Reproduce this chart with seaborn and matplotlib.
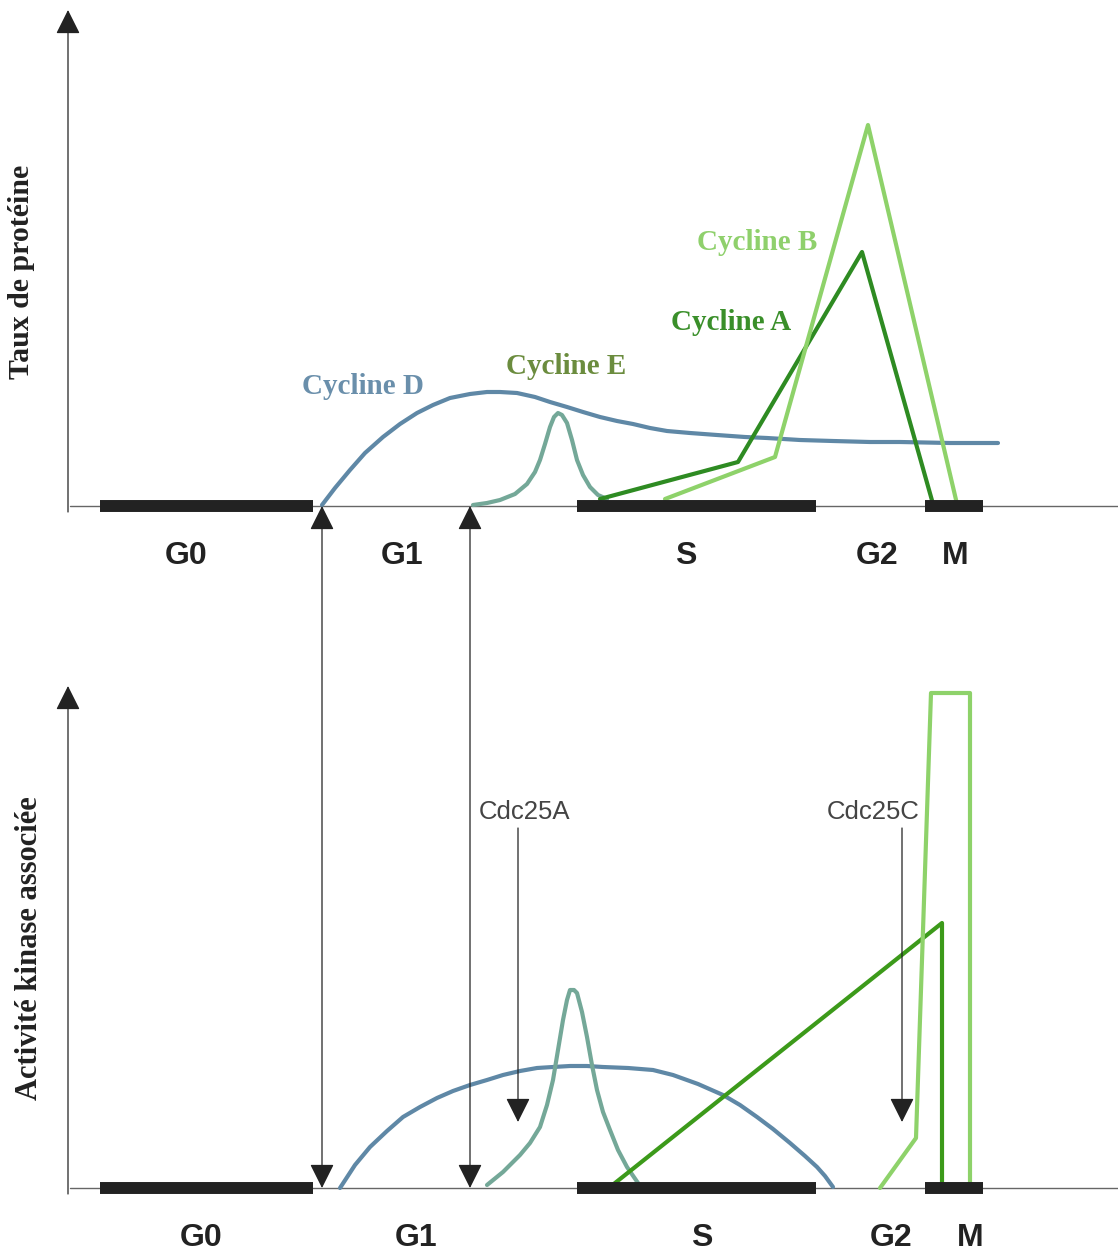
import matplotlib
matplotlib.use('Agg')
import matplotlib.pyplot as plt
import seaborn as sns

# ---- data (x = position along the cycle, level = height above baseline) ----

# top panel : Taux de protéine
top_d_x = [322, 335, 350, 365, 383, 400, 417, 433, 450, 470, 487, 500, 517, 535, 550, 567,
           583, 600, 617, 633, 650, 667, 690, 717, 745, 767, 800, 833, 870, 900, 950, 998]
top_d_y = [1, 18, 36, 53, 69, 82, 93, 101, 108, 112, 114, 114, 113, 109, 104, 99,
           94, 89, 85, 82, 78, 75, 73, 71, 69, 68, 66, 65, 64, 64, 63, 63]

top_e_x = [473, 487, 500, 515, 527, 535, 540, 545, 550, 554, 558, 562, 567, 572, 577, 583, 590, 598, 607]
top_e_y = [1, 3, 6, 12, 22, 34, 46, 62, 79, 89, 93, 91, 83, 66, 46, 31, 19, 11, 7]

top_a_x = [600, 738, 862, 933]
top_a_y = [7, 44, 254, 2]

top_b_x = [665, 775, 868, 957]
top_b_y = [7, 49, 381, 2]

# bottom panel : Activité kinase associée
bot_d_x = [340, 355, 370, 387, 403, 420, 437, 453, 470, 487, 503, 520, 537, 553, 570,
           587, 603, 628, 653, 673, 698, 723, 740, 757, 773, 790, 805, 817, 825, 833]
bot_d_y = [0, 23, 41, 57, 71, 81, 90, 97, 103, 108, 113, 117, 120, 121, 122,
           122, 121, 120, 118, 113, 104, 93, 83, 71, 59, 45, 32, 21, 12, 1]

bot_e_x = [487, 503, 520, 530, 540, 547, 553, 558, 563, 567, 570, 574, 577, 582, 587,
           592, 597, 603, 610, 618, 627, 638]
bot_e_y = [3, 16, 33, 45, 61, 83, 108, 138, 168, 188, 198, 198, 195, 176, 151,
           123, 98, 76, 58, 38, 21, 5]

bot_a_x = [610, 942, 942]
bot_a_y = [1, 265, 0]

bot_b_x = [880, 916, 931, 970, 970]
bot_b_y = [0, 50, 495, 495, 0]

# phases
phase_start = [100, 577, 925]
phase_end = [313, 816, 983]

phase_labels = ['G0', 'G1', 'S', 'G2', 'M']
top_label_x = [186, 402, 686, 877, 955]
bot_label_x = [201, 416, 702, 891, 970]

# cyclin labels
cyc_names = ['Cycline D', 'Cycline E', 'Cycline A', 'Cycline B']
cyc_label_x = [363, 566, 731, 757]
cyc_label_y = [119, 139, 184, 264]

# checkpoints (double arrows) and Cdc25 arrows
check_x = [322, 470]
cdc_names = ['Cdc25A', 'Cdc25C']
cdc_x = [518, 902]
cdc_label_x = [524, 873]
cdc_tail = [360, 360]
cdc_tip = [66, 66]

# ---- colours ----
col_d = '#5f88a6'
col_e = '#74a898'
col_a = '#2e8b22'
col_b = '#8ed26a'
col_a2 = '#3c9a1a'
text_cols = ['#6a8fab', '#6b8c3e', '#3a8f2a', '#8fd06c']
dark = '#222222'
axis_col = '#666666'

sns.set_theme(style='white')

W, H = 1118, 1253
fig = plt.figure(figsize=(W / 100, H / 100), dpi=100)
split = 600
ax_top = fig.add_axes([0, (H - split) / H, 1, split / H])
ax_bot = fig.add_axes([0, 0, 1, (H - split) / H])

ax_top.set_xlim(0, W)
ax_top.set_ylim(506 - split, 506)
ax_bot.set_xlim(0, W)
ax_bot.set_ylim(1188 - H, 1188 - split)
for ax in (ax_top, ax_bot):
    ax.axis('off')

line_kw = dict(lw=3.0, sort=False, estimator=None, solid_joinstyle='round',
               solid_capstyle='round')
arrow_kw = dict(arrowstyle='-|>', color=dark, lw=0.9, mutation_scale=38,
                shrinkA=0, shrinkB=0)


def draw_frame(ax, y_top, label_x):
    # y axis with arrow
    ax.annotate('', xy=(68, y_top), xytext=(68, -6), arrowprops=arrow_kw)
    # baseline
    ax.plot([70, W], [0, 0], color=axis_col, lw=1.0, zorder=1)
    # phase bars
    ax.hlines([0] * len(phase_start), phase_start, phase_end, color=dark,
              lw=8.6, capstyle='butt', zorder=4)
    for name, x in zip(phase_labels, label_x):
        ax.text(x, -50, name, ha='center', va='center', fontsize=23,
                fontweight='bold', family='Liberation Sans', color=dark)


draw_frame(ax_top, 496, top_label_x)
draw_frame(ax_bot, 502, bot_label_x)

# top curves
sns.lineplot(x=top_d_x, y=top_d_y, ax=ax_top, color=col_d, **line_kw)
sns.lineplot(x=top_e_x, y=top_e_y, ax=ax_top, color=col_e, **line_kw)
sns.lineplot(x=top_a_x, y=top_a_y, ax=ax_top, color=col_a, **line_kw)
sns.lineplot(x=top_b_x, y=top_b_y, ax=ax_top, color=col_b, **line_kw)

for name, x, y, c in zip(cyc_names, cyc_label_x, cyc_label_y, text_cols):
    ax_top.text(x, y, name, ha='center', va='center', fontsize=21,
                fontweight='bold', family='Liberation Serif', color=c)

# bottom curves
sns.lineplot(x=bot_d_x, y=bot_d_y, ax=ax_bot, color=col_d, **line_kw)
sns.lineplot(x=bot_e_x, y=bot_e_y, ax=ax_bot, color=col_e, **line_kw)
sns.lineplot(x=bot_a_x, y=bot_a_y, ax=ax_bot, color=col_a2, **line_kw)
sns.lineplot(x=bot_b_x, y=bot_b_y, ax=ax_bot, color=col_b, **line_kw)

# Cdc25 arrows
for name, x, lx, tail, tip in zip(cdc_names, cdc_x, cdc_label_x, cdc_tail, cdc_tip):
    ax_bot.annotate('', xy=(x, tip), xytext=(x, tail), arrowprops=arrow_kw)
    ax_bot.text(lx, tail + 16, name, ha='center', va='center', fontsize=18.5,
                family='Liberation Sans', color='#444444')

# checkpoint double arrows going from one panel to the other
for x in check_x:
    ax_bot.annotate('', xy=(x, 0), xycoords=ax_bot.transData,
                    xytext=(x, 0), textcoords=ax_top.transData,
                    arrowprops=dict(arrowstyle='<|-|>', color=dark, lw=0.9,
                                    mutation_scale=38, shrinkA=0, shrinkB=0),
                    annotation_clip=False)

# y axis titles
fig.text(22 / W, 1 - 272 / H, 'Taux de protéine', rotation=90, ha='center', va='center',
         fontsize=21.5, fontweight='bold', family='Liberation Serif', color=dark)
fig.text(30 / W, 1 - 948 / H, 'Activité kinase associée', rotation=90, ha='center',
         va='center', fontsize=22, fontweight='bold', family='Liberation Serif', color=dark)

plt.savefig('out.png', dpi=100)
